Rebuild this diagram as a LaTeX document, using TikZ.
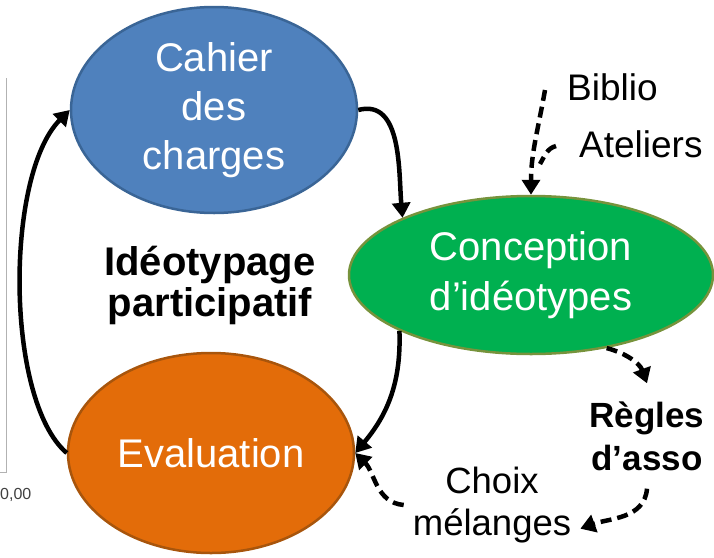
\documentclass[tikz,border=0pt]{standalone}
\usepackage{fontspec}
\setmainfont{Liberation Sans}
\usepackage{tikz}
\usetikzlibrary{shapes.geometric}
\usetikzlibrary{arrows.meta}

\definecolor{fillCdc}{HTML}{4F81BD}
\definecolor{lineCdc}{HTML}{3A6596}
\definecolor{fillConc}{HTML}{00B050}
\definecolor{lineConc}{HTML}{77933C}
\definecolor{fillEval}{HTML}{E36C09}
\definecolor{lineEval}{HTML}{A8550C}

\tikzset{
  phase/.style={ellipse, draw, line width=2.5pt, inner sep=0pt, text=white,
    align=center, font=\fontsize{40}{49}\selectfont},
  flow/.style={line width=4.5pt, arrows = {-Triangle[width=18pt, length=15pt]}},
  feed/.style={flow, dash pattern=on 11pt off 6pt},
  note/.style={align=center, inner sep=6pt},
}

\begin{document}
\begin{tikzpicture}[x=1pt, y=1pt]
\useasboundingbox (0, 0) rectangle (714, -557);
% leftover chart axis
\draw[gray!60, line width=0.8pt] (6, -78) -- (6, -472) -- (0, -472);
\node[anchor=base west, inner sep=0pt, text=black!75, font=\fontsize{16}{18}\selectfont]
    (Axis_zero) at (0, -499) {0,00};

\node[phase, fill=fillCdc, draw=lineCdc, minimum width=286pt, minimum height=206pt]
    (Cdc) at (214, -110) {Cahier\\des\\charges};
\node[phase, fill=fillConc, draw=lineConc, minimum width=364pt, minimum height=158pt,
    font=\fontsize{40}{50}\selectfont] (Conc) at (531, -275) {Conception\\d’idéotypes};
\node[phase, fill=fillEval, draw=lineEval, minimum width=286pt, minimum height=200pt]
    (Eval) at (211, -453) {Evaluation};

\node[note, font=\fontsize{40}{41}\selectfont\bfseries] (Ideo) at (210, -285)
    {Idéotypage\\participatif};
\node[anchor=base west, inner sep=0pt, font=\fontsize{37}{44}\selectfont]
    (Biblio) at (567, -100) {Biblio};
\node[anchor=base west, inner sep=0pt, font=\fontsize{37}{44}\selectfont]
    (Ateliers) at (579, -157) {Ateliers};
\node[note, inner sep=18pt, font=\fontsize{35}{43}\selectfont\bfseries] (Regles) at (647, -436)
    {Règles\\d’asso};
\node[note, inner sep=9pt, font=\fontsize{36.5}{42}\selectfont] (Choix) at (492, -505)
    {Choix\\mélanges};

\coordinate (Biblio_in) at (545, -90);
\coordinate (Ateliers_in) at (556, -146);
\coordinate (Merge) at (540, -164);

% cycle
\draw[flow] (Cdc.east) to[out=15, in=95] (Conc.156);
\draw[flow] (Conc.203) to[out=-88, in=50] (Eval.east);
\draw[flow] (Eval.west) .. controls (5, -400) and (5, -175) .. (Cdc.west);

% inputs and outputs
\draw[feed] (Biblio_in) to[out=-100, in=90] (Conc.north);
\draw[feed, arrows=-] (Ateliers_in) to[out=195, in=60] (Merge);
\draw[feed] (Conc.-44) to[out=-15, in=110] (Regles.north);
\draw[feed] (Regles.south) to[out=-95, in=20] (Choix.-15);
\draw[feed] (Choix.west) to[out=175, in=-45] (Eval.east);
\end{tikzpicture}
\end{document}
